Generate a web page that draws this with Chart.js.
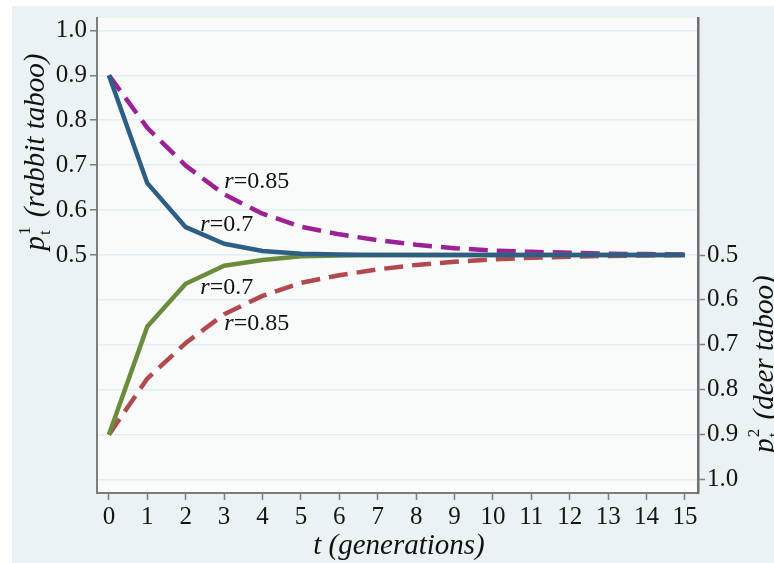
<!DOCTYPE html>
<html>
<head>
<meta charset="utf-8">
<script src="https://cdn.jsdelivr.net/npm/chart.js@4.4.1/dist/chart.umd.min.js"></script>
<style>
  html, body { margin: 0; padding: 0; background: #fff; overflow: hidden; }
  canvas { display: block; }
</style>
</head>
<body>
<canvas id="chart" width="774" height="563"></canvas>
<script>
// ---------------- data
const generations = [0, 1, 2, 3, 4, 5, 6, 7, 8, 9, 10, 11, 12, 13, 14, 15];

// p_t^1, rabbit taboo (left axis)
const rabbitR07  = [0.9, 0.66, 0.562, 0.525, 0.509, 0.503, 0.501, 0.5, 0.5, 0.5, 0.5, 0.5, 0.5, 0.5, 0.5, 0.5];
const rabbitR085 = [0.9, 0.783, 0.699, 0.635, 0.592, 0.563, 0.546, 0.533, 0.523, 0.515, 0.51, 0.507, 0.505, 0.503, 0.502, 0.501];

// p_t^2, deer taboo (right axis, reversed)
const deerR07  = [0.9, 0.659, 0.564, 0.524, 0.511, 0.503, 0.501, 0.5, 0.5, 0.5, 0.5, 0.5, 0.5, 0.5, 0.5, 0.5];
const deerR085 = [0.9, 0.775, 0.696, 0.632, 0.591, 0.562, 0.545, 0.532, 0.522, 0.515, 0.51, 0.506, 0.504, 0.502, 0.501, 0.5];

const gridValues = [0, 0.1, 0.2, 0.3, 0.4, 0.5, 0.6, 0.7, 0.8, 0.9, 1.0];
const rightTickValues = [0.5, 0.6, 0.7, 0.8, 0.9, 1.0];

const SERIF = '"Liberation Serif", "DejaVu Serif", serif';
const AXIS_GRAY = "#7d7d7d";

function points(values) {
  return generations.map((t, i) => ({ x: t, y: values[i] }));
}

// ---------------- backgrounds
const backdrop = {
  id: "backdrop",
  beforeDraw(chart) {
    const { ctx, chartArea: a } = chart;
    ctx.save();
    ctx.fillStyle = "#ffffff";
    ctx.fillRect(0, 0, chart.width, chart.height);
    ctx.fillStyle = "#eaf2f3";
    ctx.fillRect(12, 6, chart.width - 12, chart.height - 6);
    ctx.fillStyle = "#f9fafa";
    ctx.fillRect(a.left, a.top, a.right - a.left, a.bottom - a.top);
    ctx.restore();
  }
};

// ---------------- axis titles with sub/superscripts
function richTitle(ctx, sup, rest, draw) {
  let x = 0;
  ctx.font = "italic 29px " + SERIF;
  if (draw) ctx.fillText("p", x, 0);
  x += ctx.measureText("p").width + 1;
  ctx.font = "17px " + SERIF;
  const w = Math.max(ctx.measureText("t").width, ctx.measureText(sup).width);
  if (draw) {
    ctx.fillText("t", x, 6);
    ctx.fillText(sup, x, -14);
  }
  x += w + 2;
  ctx.font = "italic 29px " + SERIF;
  if (draw) ctx.fillText(rest, x, 0);
  x += ctx.measureText(rest).width;
  return x;
}

const titles = {
  id: "titles",
  afterDraw(chart) {
    const ctx = chart.ctx;
    ctx.save();
    ctx.fillStyle = "#111";
    ctx.textAlign = "left";
    ctx.textBaseline = "alphabetic";

    let len = richTitle(ctx, "1", " (rabbit taboo)", false);
    ctx.save();
    ctx.translate(44, 152 + len / 2);
    ctx.rotate(-Math.PI / 2);
    richTitle(ctx, "1", " (rabbit taboo)", true);
    ctx.restore();

    len = richTitle(ctx, "2", " (deer taboo)", false);
    ctx.save();
    ctx.translate(773, 364 + len / 2);
    ctx.rotate(-Math.PI / 2);
    richTitle(ctx, "2", " (deer taboo)", true);
    ctx.restore();

    ctx.font = "italic 29px " + SERIF;
    ctx.textAlign = "center";
    ctx.fillText("t (generations)", 399, 554);
    ctx.restore();
  }
};

// ---------------- r= labels next to the curves
const labelSpots = [
  { txt: "=0.85", t: 3.85, v: 0.663, axis: "y" },
  { txt: "=0.7",  t: 3.07, v: 0.568, axis: "y" },
  { txt: "=0.7",  t: 3.07, v: 0.573, axis: "y2" },
  { txt: "=0.85", t: 3.85, v: 0.654, axis: "y2" }
];

const curveLabels = {
  id: "curveLabels",
  afterDatasetsDraw(chart) {
    const ctx = chart.ctx;
    ctx.save();
    ctx.fillStyle = "#111";
    ctx.textBaseline = "middle";
    ctx.textAlign = "left";
    labelSpots.forEach(s => {
      const cx = chart.scales.x.getPixelForValue(s.t);
      const cy = chart.scales[s.axis].getPixelForValue(s.v);
      ctx.font = "italic 24px " + SERIF;
      const wr = ctx.measureText("r").width;
      ctx.font = "24px " + SERIF;
      const wt = ctx.measureText(s.txt).width;
      const x0 = cx - (wr + wt) / 2;
      ctx.font = "italic 24px " + SERIF;
      ctx.fillText("r", x0, cy);
      ctx.font = "24px " + SERIF;
      ctx.fillText(s.txt, x0 + wr, cy);
    });
    ctx.restore();
  }
};

// ---------------- chart
Chart.defaults.font.family = SERIF;
Chart.defaults.font.size = 25;
Chart.defaults.color = "#151515";

const lineBase = { borderWidth: 4.5, pointRadius: 0, tension: 0, fill: false, borderJoinStyle: "round" };

new Chart(document.getElementById("chart"), {
  type: "line",
  data: {
    datasets: [
      { ...lineBase, data: points(rabbitR07), borderColor: "#2d5f84", yAxisID: "y" },
      { ...lineBase, data: points(deerR07), borderColor: "#6a8d3b", yAxisID: "y2" },
      { ...lineBase, data: points(rabbitR085), borderColor: "#9d2196", borderDash: [19, 9], yAxisID: "y" },
      { ...lineBase, data: points(deerR085), borderColor: "#b2494f", borderDash: [19, 9], yAxisID: "y2" }
    ]
  },
  options: {
    responsive: false,
    animation: false,
    layout: { padding: { top: 14, left: 0, right: 0, bottom: 0 } },
    plugins: { legend: { display: false }, tooltip: { enabled: false } },
    scales: {
      x: {
        type: "linear",
        min: -0.31,
        max: 15.34,
        afterBuildTicks: s => { s.ticks = generations.map(v => ({ value: v })); },
        afterFit: s => { s.height = 70; },
        ticks: { padding: 2, callback: v => String(v) },
        grid: { drawOnChartArea: false, tickLength: 7, tickColor: AXIS_GRAY, tickWidth: 1.5 },
        border: { color: AXIS_GRAY, width: 2 }
      },
      y: {
        type: "linear",
        position: "left",
        min: -0.0298,
        max: 1.0276,
        afterBuildTicks: s => { s.ticks = gridValues.map(v => ({ value: v })); },
        afterFit: s => { s.width = 97; },
        ticks: { padding: 3, callback: v => (v >= 0.499 ? v.toFixed(1) : "") },
        grid: {
          color: "#e3eef1",
          lineWidth: 1.5,
          tickLength: 7,
          tickWidth: 1.5,
          tickColor: c => (c.tick && c.tick.value >= 0.499 ? AXIS_GRAY : "rgba(0,0,0,0)")
        },
        border: { color: AXIS_GRAY, width: 2 }
      },
      y2: {
        type: "linear",
        position: "right",
        reverse: true,
        min: -0.0276,
        max: 1.0298,
        afterBuildTicks: s => { s.ticks = rightTickValues.map(v => ({ value: v })); },
        afterFit: s => { s.width = 76; },
        ticks: { padding: 2, callback: v => v.toFixed(1) },
        grid: { drawOnChartArea: false, tickLength: 7, tickColor: AXIS_GRAY, tickWidth: 1.5 },
        border: { color: "#6f6f6f", width: 2.5 }
      }
    }
  },
  plugins: [backdrop, curveLabels, titles]
});
</script>
</body>
</html>
